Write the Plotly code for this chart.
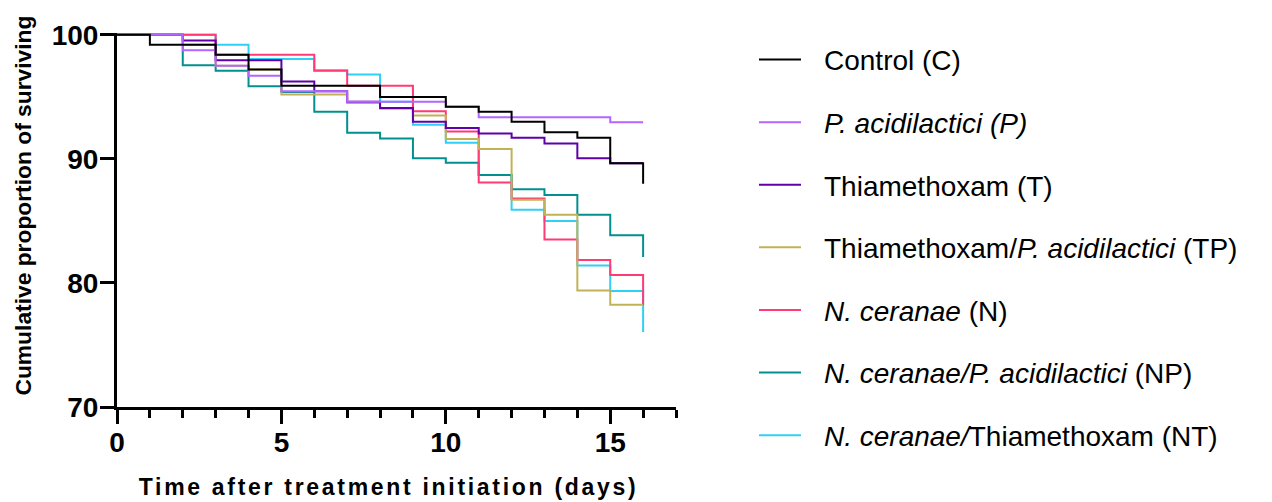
import plotly.graph_objects as go

days = list(range(17))

control = [100, 99.2, 99.2, 98.4, 97.2, 95.9, 95.9, 95.9, 95.0, 95.0, 94.2, 93.8, 93.0, 92.15, 91.7, 89.65, 88.0]
p_acid = [100, 100, 98.75, 97.5, 96.7, 95.45, 95.45, 94.6, 94.6, 94.6, 94.2, 93.35, 93.35, 93.35, 93.35, 92.95, 92.95]
thiam = [100, 100, 99.55, 97.95, 97.95, 96.25, 95.45, 94.6, 94.1, 93.0, 92.5, 92.05, 91.7, 91.25, 90.05, 89.65, 89.65]
thiam_p = [100, 100, 99.2, 97.5, 97.2, 95.2, 95.2, 94.5, 94.05, 93.5, 91.6, 90.8, 86.7, 85.5, 79.4, 78.25, 78.25]
ceranae = [100, 100, 100, 98.4, 98.4, 98.4, 97.1, 95.9, 95.9, 93.85, 92.2, 88.1, 86.8, 83.5, 81.85, 80.65, 78.2]
ceranae_p = [100, 100, 97.55, 97.1, 95.85, 95.4, 93.8, 92.1, 91.65, 90.05, 89.7, 88.7, 87.55, 87.1, 85.5, 83.85, 82.1]
ceranae_t = [100, 100, 100, 99.2, 98.05, 98.05, 97.15, 96.8, 94.6, 92.75, 91.3, 88.7, 85.9, 85.0, 81.4, 79.35, 76.05]

names = [
    "Control (C)",
    "<i>P. acidilactici (P)</i>",
    "Thiamethoxam (T)",
    "Thiamethoxam/<i>P. acidilactici</i> (TP)",
    "<i>N. ceranae</i> (N)",
    "<i>N. ceranae/P. acidilactici</i> (NP)",
    "<i>N. ceranae/</i>Thiamethoxam (NT)",
]
series = [control, p_acid, thiam, thiam_p, ceranae, ceranae_p, ceranae_t]
colors = ["#000000", "#b266ff", "#6000a8", "#c2b257", "#ff3a75", "#00918f", "#2ed0f5"]

x_ticks = [0, 5, 10, 15]
y_ticks = [70, 80, 90, 100]
x_title = "Time after treatment initiation (days)"
y_title = "Cumulative proportion of surviving"

FONT = "Arial, 'Liberation Sans', sans-serif"

fig = go.Figure()
for i in reversed(range(len(series))):
    fig.add_trace(go.Scatter(
        x=days, y=series[i], name=names[i], mode="lines",
        line=dict(shape="hv", color=colors[i], width=2),
        legendgroup="g%d" % i, legendrank=i + 1,
    ))

fig.update_layout(
    width=1272, height=502,
    margin=dict(l=117, r=596, t=33, b=95, autoexpand=False),
    plot_bgcolor="white", paper_bgcolor="white",
    font=dict(family=FONT, color="black"),
    showlegend=True,
    legend=dict(
        x=1.1395, y=0.995, xanchor="left", yanchor="top",
        traceorder="grouped", tracegroupgap=23.2, maxheight=490,
        font=dict(family=FONT, size=28, color="black"),
        bgcolor="rgba(0,0,0,0)", itemwidth=42,
    ),
    annotations=[
        dict(text=x_title, xref="paper", yref="paper", x=0.4848, y=-0.2139,
             xanchor="center", yanchor="middle", showarrow=False,
             font=dict(family=FONT, size=23, weight="bold", color="black")),
        dict(text=y_title, xref="paper", yref="paper", x=-0.169, y=0.5374,
             xanchor="center", yanchor="middle", showarrow=False, textangle=-90,
             font=dict(family=FONT, size=22.8, weight="bold", color="black")),
    ],
)
fig.update_xaxes(
    range=[0, 17], showline=True, linewidth=3, linecolor="black", automargin=False,
    tickmode="array", tickvals=x_ticks, ticks="outside", ticklen=14, tickwidth=3, tickcolor="black",
    minor=dict(dtick=1, tick0=0, ticks="outside", ticklen=8, tickwidth=3, tickcolor="black"),
    tickfont=dict(family=FONT, size=28, weight="bold"), ticklabelstandoff=-6,
    showgrid=False, zeroline=False,
)
fig.update_yaxes(
    range=[70, 100.15], showline=True, linewidth=3, linecolor="black", automargin=False,
    tickmode="array", tickvals=y_ticks, ticks="outside", ticklen=14, tickwidth=3, tickcolor="black",
    tickfont=dict(family=FONT, size=28, weight="bold"), ticklabelstandoff=-4,
    showgrid=False, zeroline=False,
)

post = """
document.body.style.margin = '0';
document.body.style.padding = '0';
var gd = document.getElementById('{plot_id}');
function fixText(){
  document.querySelectorAll('.annotation-text').forEach(function(t){
    if (t.textContent.indexOf('Time') === 0) { t.style.letterSpacing = '2.7px'; }
  });
  document.querySelectorAll('.legend .scrollbox, .legend').forEach(function(g){
    g.removeAttribute('clip-path');
  });
  document.querySelectorAll('.legendtext').forEach(function(t){
    var x0 = t.getAttribute('data-x0');
    if (x0 === null) { x0 = t.getAttribute('x'); t.setAttribute('data-x0', x0); }
    t.setAttribute('x', parseFloat(x0) + 18);
  });
}
fixText();
if (gd && gd.on) { gd.on('plotly_afterplot', fixText); }
"""
fig.write_html("out.html", post_script=post, config={"displayModeBar": False})
